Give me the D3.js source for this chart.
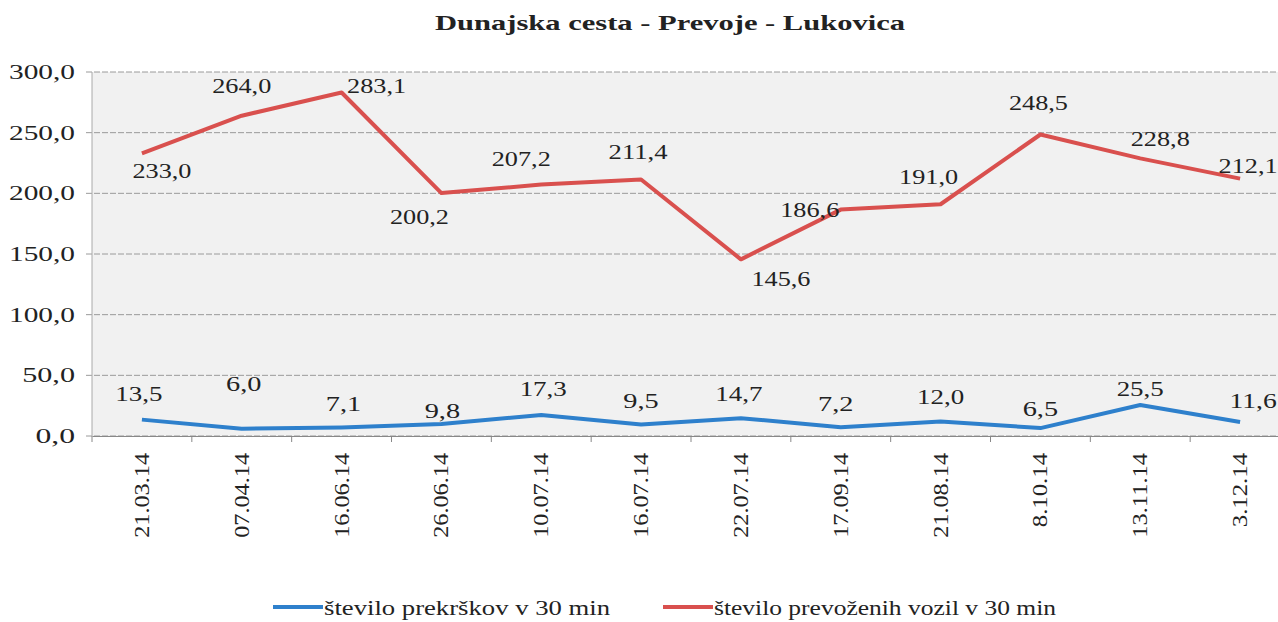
<!DOCTYPE html>
<html>
<head>
<meta charset="utf-8">
<script src="https://cdn.jsdelivr.net/npm/d3@7"></script>
<style>
    body { margin: 0; background: #fff; }
    text { font-family: "Liberation Serif", "DejaVu Serif", serif; fill: #222; }
</style>
</head>
<body>
<script>
// podatki
var datumi = ["21.03.14", "07.04.14", "16.06.14", "26.06.14", "10.07.14", "16.07.14",
              "22.07.14", "17.09.14", "21.08.14", "8.10.14", "13.11.14", "3.12.14"];
var prekrski = [13.5, 6.0, 7.1, 9.8, 17.3, 9.5, 14.7, 7.2, 12.0, 6.5, 25.5, 11.6];
var vozila = [233.0, 264.0, 283.1, 200.2, 207.2, 211.4, 145.6, 186.6, 191.0, 248.5, 228.8, 212.1];
var yTicks = [0, 50, 100, 150, 200, 250, 300];
var serije = ["število prekrškov v 30 min", "število prevoženih vozil v 30 min"];

// odmiki oznak od tock (dx, dy)
var odmikVozila = [[20,25],[0,-23],[35,0],[-22,31],[-20,-19],[-3,-21],[40,27],[-31,7],[-12,-20],[-2,-24],[20,-12],[8,-6]];
var odmikPrekrski = [[-3,-19],[2,-38],[2,-16],[1,-6],[2,-19],[0,-16],[-2,-17],[-5,-16],[0,-17],[0,-12],[0,-9],[13,-14]];

var width = 1278, height = 622;
var pLeft = 92, pRight = 1290, pTop = 72, pBottom = 436;

var locale = d3.formatLocale({decimal: ",", thousands: ".", grouping: [3], currency: ["", "€"]});
var fmt = locale.format(".1f");

var svg = d3.select("body").append("svg")
    .attr("width", width)
    .attr("height", height);

svg.append("text")
    .attr("x", 670)
    .attr("y", 30)
    .attr("text-anchor", "middle")
    .style("font-size", "22px")
    .style("font-weight", "bold")
    .attr("textLength", 470)
    .attr("lengthAdjust", "spacingAndGlyphs")
    .text("Dunajska cesta - Prevoje - Lukovica");

var x = d3.scaleBand().domain(datumi).range([pLeft, pRight]);
var y = d3.scaleLinear().domain([0, 300]).range([pBottom, pTop]);

// ozadje
svg.append("rect")
    .attr("x", pLeft)
    .attr("y", pTop)
    .attr("width", width - pLeft)
    .attr("height", pBottom - pTop)
    .attr("fill", "#f1f1f1");

// mreza
svg.append("g").selectAll("line")
    .data(yTicks)
    .enter().append("line")
    .attr("x1", pLeft - 6)
    .attr("x2", width)
    .attr("y1", function(d){ return y(d); })
    .attr("y2", function(d){ return y(d); })
    .attr("stroke", "#9a9a9a")
    .attr("stroke-width", 1)
    .attr("stroke-dasharray", "6,2");

svg.append("line")
    .attr("x1", pLeft).attr("x2", pLeft)
    .attr("y1", pTop).attr("y2", pBottom)
    .attr("stroke", "#aaa");

svg.append("g").selectAll("text")
    .data(yTicks)
    .enter().append("text")
    .attr("x", pLeft - 17)
    .attr("y", function(d){ return y(d) + 7; })
    .attr("text-anchor", "end")
    .style("font-size", "20px")
    .attr("textLength", function(d){ return fmt(d).length * 13.2; })
    .attr("lengthAdjust", "spacingAndGlyphs")
    .text(function(d){ return fmt(d); });

// x os
var xAxis = svg.append("g")
    .attr("transform", "translate(0," + pBottom + ")")
    .call(d3.axisBottom(x).tickSize(0).tickFormat(""));
xAxis.select(".domain").attr("stroke", "#888");

svg.append("g").selectAll("line")
    .data(datumi)
    .enter().append("line")
    .attr("x1", function(d){ return x(d); })
    .attr("x2", function(d){ return x(d); })
    .attr("y1", pBottom)
    .attr("y2", pBottom + 6)
    .attr("stroke", "#888");

svg.append("g").selectAll("text")
    .data(datumi)
    .enter().append("text")
    .attr("transform", function(d){
        return "translate(" + (x(d) + x.bandwidth()/2 + 7) + "," + (pBottom + 17) + ") rotate(-90)";
    })
    .attr("text-anchor", "end")
    .style("font-size", "20px")
    .attr("textLength", function(d){ return d.length * 10.6; })
    .attr("lengthAdjust", "spacingAndGlyphs")
    .text(function(d){ return d; });

// crte
var barve = ["#2e80cc", "#d9504e"];

function narisiSerijo(vrednosti, barva, odmiki){
    var line = d3.line()
        .x(function(d, i){ return x(datumi[i]) + x.bandwidth()/2; })
        .y(function(d){ return y(d); });

    svg.append("path")
        .datum(vrednosti)
        .attr("d", line)
        .attr("fill", "none")
        .attr("stroke", barva)
        .attr("stroke-width", 4)
        .attr("stroke-linejoin", "round");

    svg.append("g").selectAll("text")
        .data(vrednosti)
        .enter().append("text")
        .attr("x", function(d, i){ return x(datumi[i]) + x.bandwidth()/2 + odmiki[i][0]; })
        .attr("y", function(d, i){ return y(d) + odmiki[i][1]; })
        .attr("text-anchor", "middle")
        .style("font-size", "20px")
        .attr("textLength", function(d){ return fmt(d).length * 11.8; })
        .attr("lengthAdjust", "spacingAndGlyphs")
        .text(function(d){ return fmt(d); });
}

narisiSerijo(vozila, barve[1], odmikVozila);
narisiSerijo(prekrski, barve[0], odmikPrekrski);

// legenda
var legenda = [
    {x: 273, dolzina: 286},
    {x: 663, dolzina: 342}
];
legenda.forEach(function(l, i){
    svg.append("line")
        .attr("x1", l.x).attr("x2", l.x + 50)
        .attr("y1", 607).attr("y2", 607)
        .attr("stroke", barve[i])
        .attr("stroke-width", 4);
    svg.append("text")
        .attr("x", l.x + 51)
        .attr("y", 615)
        .style("font-size", "20px")
        .attr("textLength", l.dolzina)
        .attr("lengthAdjust", "spacingAndGlyphs")
        .text(serije[i]);
});
</script>
</body>
</html>
